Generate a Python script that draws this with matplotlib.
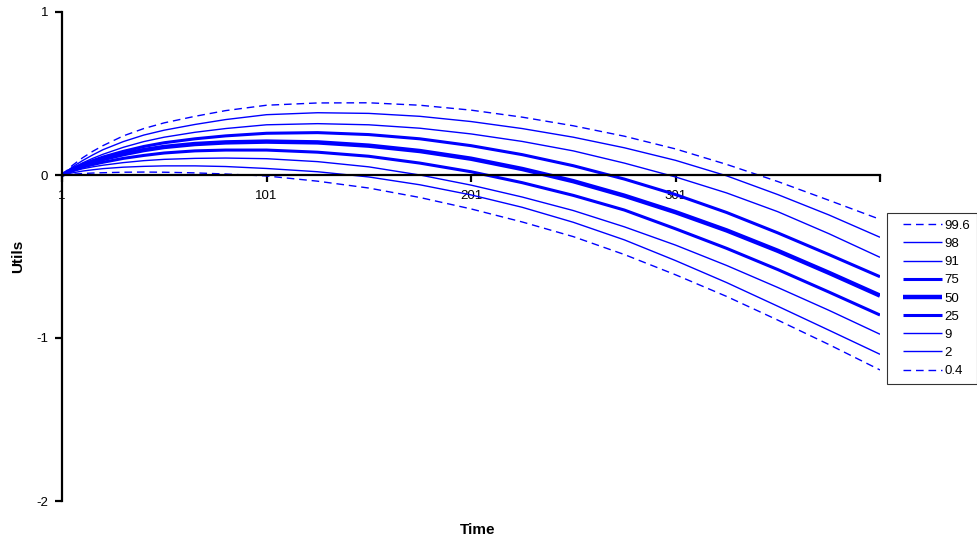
import matplotlib
matplotlib.use("Agg")
import matplotlib.pyplot as plt
from matplotlib.lines import Line2D
from matplotlib.legend_handler import HandlerLine2D

plt.rcParams['font.family'] = ['Liberation Sans', 'DejaVu Sans']

time = [1, 3, 6, 11, 16, 21, 31, 41, 51, 66, 81, 101, 126, 151, 176, 201,
        226, 251, 276, 301, 326, 351, 376, 401]

p99_6 = [0, 0.023, 0.058, 0.105, 0.145, 0.18, 0.24, 0.285, 0.32, 0.36, 0.395, 0.428,
         0.442, 0.443, 0.428, 0.398, 0.355, 0.302, 0.238, 0.16, 0.065, -0.04, -0.155, -0.272]
p98 = [0, 0.019, 0.048, 0.088, 0.123, 0.155, 0.205, 0.245, 0.275, 0.31, 0.34, 0.37,
       0.382, 0.378, 0.36, 0.328, 0.285, 0.232, 0.167, 0.09, -0.005, -0.12, -0.245, -0.382]
p91 = [0, 0.016, 0.04, 0.074, 0.102, 0.127, 0.17, 0.205, 0.232, 0.262, 0.285, 0.308,
       0.315, 0.308, 0.287, 0.252, 0.206, 0.148, 0.073, -0.012, -0.11, -0.225, -0.36, -0.505]
p75 = [0, 0.015, 0.036, 0.064, 0.088, 0.11, 0.145, 0.175, 0.198, 0.222, 0.24, 0.256,
       0.26, 0.248, 0.222, 0.18, 0.125, 0.057, -0.025, -0.12, -0.23, -0.355, -0.488, -0.624]
p50 = [0, 0.013, 0.032, 0.058, 0.08, 0.098, 0.128, 0.153, 0.172, 0.19, 0.2, 0.205,
       0.2, 0.18, 0.147, 0.1, 0.037, -0.038, -0.127, -0.228, -0.34, -0.465, -0.6, -0.74]
p25 = [0, 0.011, 0.027, 0.048, 0.064, 0.078, 0.102, 0.12, 0.135, 0.148, 0.153, 0.153,
       0.14, 0.115, 0.073, 0.02, -0.047, -0.125, -0.215, -0.33, -0.45, -0.58, -0.718, -0.859]
p9 = [0, 0.009, 0.021, 0.038, 0.05, 0.06, 0.076, 0.088, 0.096, 0.102, 0.104, 0.10,
      0.082, 0.05, 0.0, -0.062, -0.135, -0.218, -0.318, -0.43, -0.555, -0.69, -0.83, -0.977]
p2 = [0, 0.006, 0.013, 0.024, 0.032, 0.039, 0.048, 0.053, 0.056, 0.056, 0.052, 0.04,
      0.02, -0.012, -0.06, -0.122, -0.198, -0.29, -0.398, -0.525, -0.66, -0.805, -0.952, -1.10]
p0_4 = [0, 0.002, 0.005, 0.009, 0.012, 0.014, 0.017, 0.018, 0.017, 0.013, 0.006, -0.006,
        -0.038, -0.08, -0.138, -0.208, -0.288, -0.378, -0.488, -0.612, -0.745, -0.89, -1.04, -1.196]

labels = ['99.6', '98', '91', '75', '50', '25', '9', '2', '0.4']
series = [p99_6, p98, p91, p75, p50, p25, p9, p2, p0_4]

x_ticks = [1, 101, 201, 301, 401]
x_ticklabels = ['1', '101', '201', '301', '']
y_ticks = [1, 0, -1, -2]

dash = (0, (5.5, 3.5))
styles = {
    '99.6': dict(lw=1.0, ls=dash),
    '98': dict(lw=1.0, ls='-'),
    '91': dict(lw=1.0, ls='-'),
    '75': dict(lw=2.2, ls='-'),
    '50': dict(lw=3.2, ls='-'),
    '25': dict(lw=2.2, ls='-'),
    '9': dict(lw=1.0, ls='-'),
    '2': dict(lw=1.0, ls='-'),
    '0.4': dict(lw=1.0, ls=dash),
}

fig = plt.figure(figsize=(9.78, 5.43), dpi=100)
ax = fig.add_axes([62/978, 1-501/543, (880-62)/978, (501-12)/543])

for lab, vals in zip(labels, series):
    st = styles[lab]
    ax.plot(time, vals, color='#0000FF', linewidth=st['lw'], linestyle=st['ls'],
            label=lab, solid_capstyle='butt', dash_capstyle='butt',
            solid_joinstyle='round')

ax.set_xlim(1, 401)
ax.set_ylim(-2, 1)

ax.spines['top'].set_visible(False)
ax.spines['right'].set_visible(False)
ax.spines['bottom'].set_position(('data', 0))
ax.spines['left'].set_linewidth(1.6)
ax.spines['bottom'].set_linewidth(1.6)

ax.set_xticks(x_ticks)
ax.set_xticklabels(x_ticklabels)
ax.set_yticks(y_ticks)
ax.set_yticklabels([str(v) for v in y_ticks])
ax.tick_params(axis='x', direction='out', length=5, width=1.6, labelsize=9.5, pad=6)
ax.tick_params(axis='y', direction='out', length=5, width=1.6, labelsize=9.5, pad=5)

fig.text(18/978, 1-256/543, 'Utils', rotation=90, fontsize=11, fontweight='bold',
         ha='center', va='center')
fig.text(478/978, 1-530/543, 'Time', fontsize=11, fontweight='bold',
         ha='center', va='center')

leg = fig.legend(loc='upper left', bbox_to_anchor=(887/978, 1-213/543), fontsize=9.5,
                 frameon=True, fancybox=False, shadow=False, handlelength=3.7,
                 handletextpad=0.15, labelspacing=0.45, borderpad=0.5,
                 borderaxespad=0, handler_map={Line2D: HandlerLine2D(xpad=0.68)})
leg.get_frame().set_edgecolor('black')
leg.get_frame().set_linewidth(0.8)

fig.savefig('out.png', dpi=100)
